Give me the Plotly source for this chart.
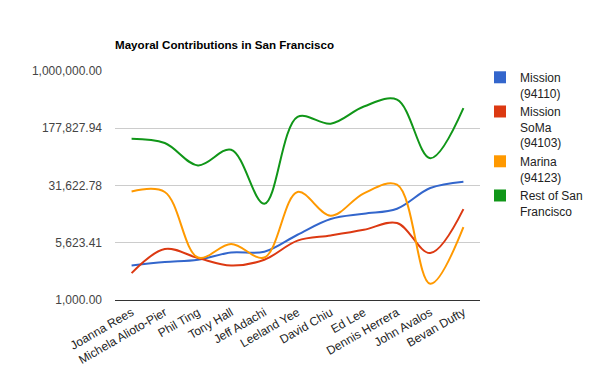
import plotly.graph_objects as go

candidates = ["Joanna Rees", "Michela Alioto-Pier", "Phil Ting", "Tony Hall", "Jeff Adachi",
              "Leeland Yee", "David Chiu", "Ed Lee", "Dennis Herrera", "John Avalos", "Bevan Dufty"]
mission = [2830, 3140, 3370, 4200, 4280, 7160, 11500, 13500, 15700, 29300, 35500]
mission_soma = [2250, 4650, 3550, 2830, 3370, 6000, 7000, 8300, 10200, 4120, 15500]
marina = [26400, 26000, 3600, 5400, 3600, 26000, 12700, 25000, 32400, 1630, 9000]
rest_sf = [130000, 114000, 58000, 93000, 18200, 250000, 204000, 343000, 421000, 72000, 327000]

series_names = ["Mission<br>(94110)", "Mission<br>SoMa<br>(94103)", "Marina<br>(94123)", "Rest of San<br>Francisco"]
series_values = [mission, mission_soma, marina, rest_sf]
colors = ["#3366cc", "#dc3912", "#ff9900", "#109618"]

tick_vals = [1000, 5623.41, 31622.78, 177827.94, 1000000]
tick_text = ["1,000.00", "5,623.41", "31,622.78", "177,827.94", "1,000,000.00"]

fig = go.Figure()
for name, vals, c in zip(series_names, series_values, colors):
    fig.add_trace(go.Scatter(x=candidates, y=vals, mode="lines",
                             line=dict(color=c, width=2, shape="spline", smoothing=1.0),
                             showlegend=False, hoverinfo="skip"))
for name, c in zip(series_names, colors):
    fig.add_trace(go.Scatter(x=[None], y=[None], mode="markers", name=name,
                             marker=dict(symbol="square", size=12, color=c, line=dict(width=0))))

fig.update_layout(
    width=600, height=371,
    margin=dict(l=115, r=114, t=71, b=71),
    paper_bgcolor="white", plot_bgcolor="white",
    font=dict(family="Arial, Liberation Sans", size=11, color="#444"),
    title=dict(text="<b>Mayoral Contributions in San Francisco</b>", x=115/600, xanchor="left",
               y=1-45/371, yanchor="middle", font=dict(size=11.6, color="#000")),
    legend=dict(x=1.0, y=1.035, xanchor="left", yanchor="top", font=dict(size=12, color="#222"),
                valign="top", tracegroupgap=0, itemsizing="constant", bgcolor="rgba(0,0,0,0)"),
    xaxis=dict(tickangle=-30, showgrid=False, showline=True, linecolor="#333", linewidth=1,
               ticks="", tickfont=dict(size=12, color="#222"), range=[-0.5, 10.5],
               automargin=False),
    yaxis=dict(type="log", range=[3, 6], tickvals=tick_vals, ticktext=tick_text,
               showgrid=True, gridcolor="#cccccc", zeroline=False, ticks="",
               tickfont=dict(size=12, color="#444"), ticklabelstandoff=12, automargin=False),
)

fig.write_html("out.html", config={"displayModeBar": False},
               post_script="document.body.style.margin='0';")
